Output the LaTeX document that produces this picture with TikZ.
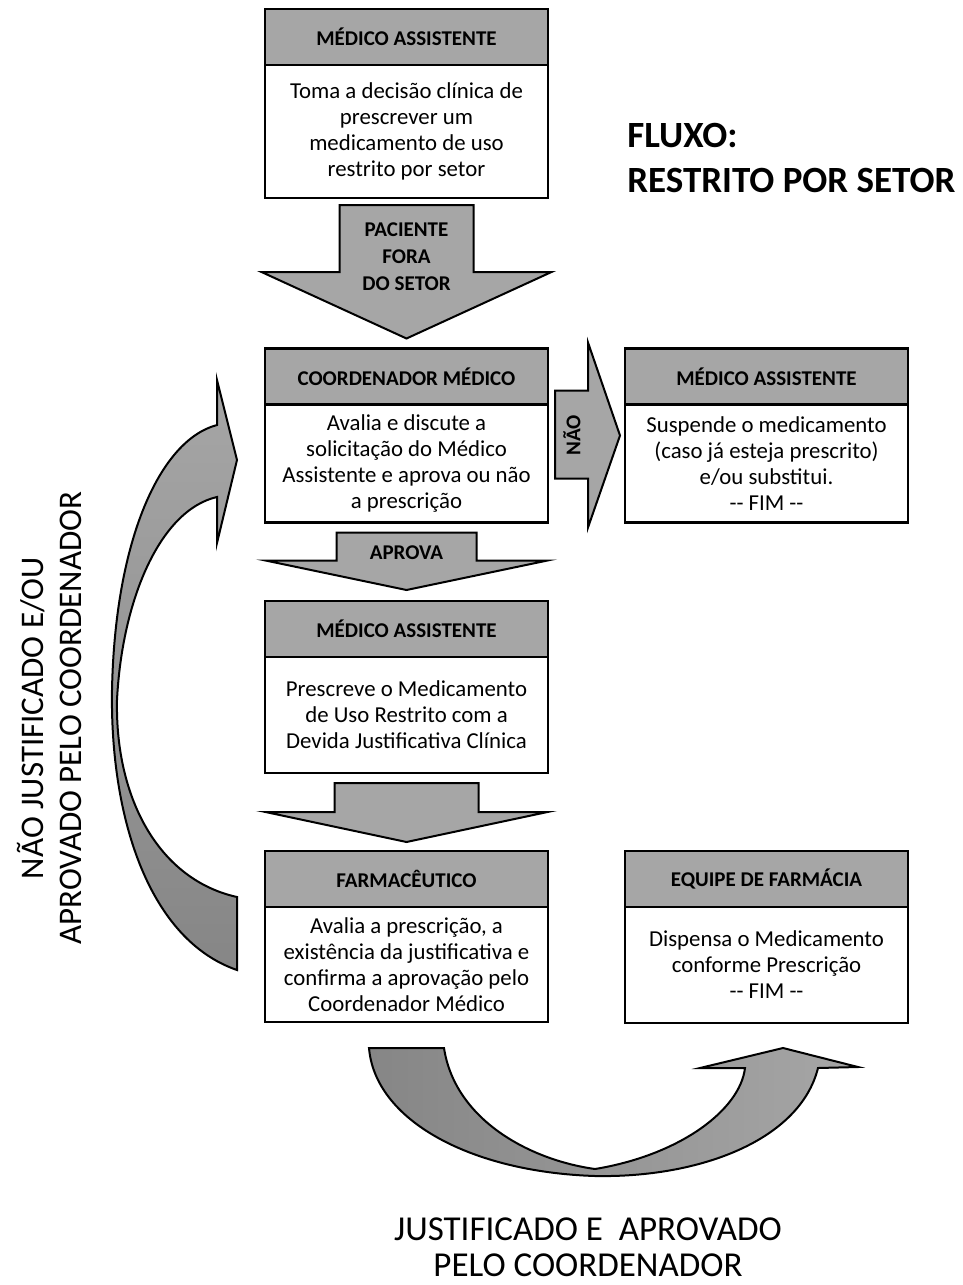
\documentclass[tikz,border=0pt]{standalone}
\usepackage{fontspec}
\setmainfont{Carlito}
\usetikzlibrary{positioning,calc}

\definecolor{boxgray}{RGB}{166,166,166}
\definecolor{darkgray2}{RGB}{134,134,134}

\tikzset{
  head/.style={draw=black,fill=boxgray,line width=1.3pt,outer sep=0pt,inner sep=0pt,
    minimum width=141.5pt,minimum height=28pt,font=\bfseries\fontsize{10.5}{12}\selectfont},
  body/.style={draw=black,fill=white,line width=1.3pt,outer sep=0pt,inner sep=0pt,
    minimum width=141.5pt,align=center,font=\fontsize{11.4}{13}\selectfont,below=0pt of #1},
  fatarrow/.style={draw=black,fill=boxgray,line width=1pt,line join=miter},
  arrowlabel/.style={font=\bfseries\fontsize{10.5}{13.5}\selectfont,align=center,inner sep=0pt},
  bigtext/.style={font=\fontsize{17.5}{18}\selectfont,align=center,inner sep=0pt}
}

\begin{document}
\begin{tikzpicture}[x=0.5pt,y=-0.5pt]
\useasboundingbox (0,0) rectangle (963,1285);

% boxes
\node[head] (h1) at (406.5,37) {MÉDICO ASSISTENTE};
\node[body=h1,minimum height=66.5pt] (b1) {Toma a decisão clínica de\\prescrever um\\medicamento de uso\\restrito por setor};

\node[head] (h2) at (406.5,376.5) {COORDENADOR MÉDICO};
\node[body=h2,minimum height=59pt] (b2) {Avalia e discute a\\solicitação do Médico\\Assistente e aprova ou não\\a prescrição};

\node[head] (h3) at (766.5,376.5) {MÉDICO ASSISTENTE};
\node[body=h3,minimum height=59pt] (b3) {Suspende o medicamento\\(caso já esteja prescrito)\\e/ou substitui.\\-{}- FIM -{}-};

\node[head] (h4) at (406.5,629) {MÉDICO ASSISTENTE};
\node[body=h4,minimum height=58pt] (b4) {Prescreve o Medicamento\\de Uso Restrito com a\\Devida Justificativa Clínica};

\node[head] (h5) at (406.5,879) {FARMACÊUTICO};
\node[body=h5,minimum height=57.5pt] (b5) {Avalia a prescrição, a\\existência da justificativa e\\confirma a aprovação pelo\\Coordenador Médico};

\node[head] (h6) at (766.5,879) {EQUIPE DE FARMÁCIA};
\node[body=h6,minimum height=58pt] (b6) {Dispensa o Medicamento\\conforme Prescrição\\-{}- FIM -{}-};

% block arrows
\draw[fatarrow] ($(b1.south)+(-67,7)$) -- ($(b1.south)+(67,7)$) -- ($(b1.south)+(67,74)$)
  -- ($(b1.south)+(145,74)$) -- ($(h2.north)+(0,-10)$) -- ($(b1.south)+(-145,74)$)
  -- ($(b1.south)+(-67,74)$) -- cycle;
\node[arrowlabel] (l1) at ($(b1.south)+(0,59)$) {PACIENTE\\FORA\\DO SETOR};

\coordinate (m2) at ($(h2.north east)!0.5!(b2.south east)$);
\coordinate (m3) at ($(h3.north west)!0.5!(b3.south west)$);
\draw[fatarrow] ($(m2)+(7,-45)$) -- ($(m2)+(40,-45)$) -- ($(m2)+(40,-93)$)
  -- ($(m3)+(-5,0)$) -- ($(m2)+(40,92)$) -- ($(m2)+(40,43)$) -- ($(m2)+(7,43)$) -- cycle;
\node[arrowlabel,rotate=90] (l3) at ($(m2)+(24,0)$) {NÃO};

\draw[fatarrow] ($(b2.south)+(-70,10)$) -- ($(b2.south)+(70,10)$) -- ($(b2.south)+(70,38)$)
  -- ($(b2.south)+(141,38)$) -- ($(h4.north)+(0,-11)$) -- ($(b2.south)+(-141,38)$)
  -- ($(b2.south)+(-70,38)$) -- cycle;
\node[arrowlabel] (l2) at ($(b2.south)+(0,30)$) {APROVA};

\draw[fatarrow] ($(b4.south)+(-72,10)$) -- ($(b4.south)+(72,10)$) -- ($(b4.south)+(72,39)$)
  -- ($(b4.south)+(141,39)$) -- ($(h5.north)+(0,-9)$) -- ($(b4.south)+(-141,39)$)
  -- ($(b4.south)+(-72,39)$) -- cycle;

% curved arrows
\draw[line width=1pt,top color=boxgray,bottom color=darkgray2]
  (237,897) -- (237,970)
  .. controls (150,940) and (110,820) .. (112,690)
  .. controls (115,540) and (160,440) .. (217,425)
  -- (217,380) -- (237,460) -- (217,543) -- (217,497)
  .. controls (160,510) and (122,600) .. (117,700)
  .. controls (115,800) and (160,880) .. (237,897) -- cycle;

\draw[line width=1pt,left color=darkgray2,right color=boxgray]
  (369,1048) -- (444,1048)
  .. controls (455,1120) and (530,1160) .. (595,1169)
  .. controls (680,1155) and (740,1110) .. (745,1068)
  -- (700,1068) -- (783,1048) -- (858,1067) -- (818,1068)
  .. controls (800,1140) and (700,1178) .. (595,1176)
  .. controls (470,1172) and (375,1120) .. (369,1048) -- cycle;

% texts
\node[anchor=west,inner sep=0pt,align=left,font=\bfseries\fontsize{18.5}{22.5}\selectfont] (title) at (627,157.5) {FLUXO:\\RESTRITO POR SETOR};
\node[rotate=90,align=center,inner sep=0pt,font=\fontsize{16.5}{19}\selectfont] (nj) at (49,718) {NÃO JUSTIFICADO E/OU\\APROVADO PELO COORDENADOR};
\node[bigtext] (ja) at (588,1247) {JUSTIFICADO E\ \ APROVADO\\PELO COORDENADOR};
\end{tikzpicture}
\end{document}
